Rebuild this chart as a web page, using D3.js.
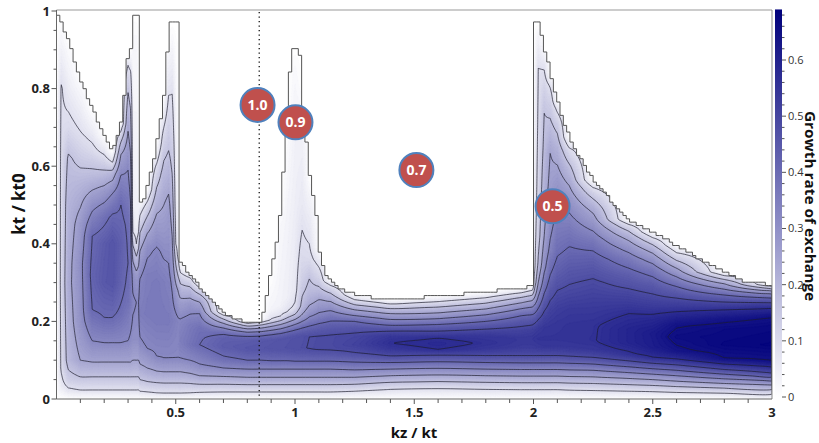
<!DOCTYPE html>
<html>
<head>
<meta charset="utf-8">
<script src="https://cdn.jsdelivr.net/npm/d3@7"></script>
<style>
  body { margin: 0; background: #fff; }
  svg { display: block; }
  text { font-family: "Open Sans", "Noto Sans", sans-serif; }
</style>
</head>
<body>
<svg id="chart" width="819" height="443"></svg>
<script>
// ---- data -------------------------------------------------------------
const xTickValues = [0.5, 1, 1.5, 2, 2.5, 3];
const yTickValues = [0, 0.2, 0.4, 0.6, 0.8, 1];
const barTickValues = [0, 0.1, 0.2, 0.3, 0.4, 0.5, 0.6];
const contourLevels = [0.08, 0.16, 0.24, 0.32, 0.40, 0.48, 0.56, 0.64];
const growthMax = 0.69;

// upper edge of the unstable region (kz, kt)
const edgeKz = [0, 0.008, 0.046, 0.115, 0.185, 0.235, 0.25, 0.27, 0.29, 0.30, 0.313, 0.314, 0.345, 0.346, 0.365, 0.38, 0.41, 0.436, 0.457, 0.47, 0.478, 0.512, 0.513, 0.52, 0.54, 0.562, 0.59, 0.616, 0.645, 0.68, 0.717, 0.75, 0.78, 0.86, 0.864, 0.88, 0.897, 0.91, 0.927, 0.935, 0.948, 0.952, 0.964, 0.973, 0.977, 0.99, 1.019, 1.027, 1.031, 1.036, 1.048, 1.052, 1.061, 1.073, 1.086, 1.094, 1.099, 1.115, 1.128, 1.149, 1.178, 1.22, 1.275, 1.346, 1.44, 1.54, 1.69, 1.93, 1.999, 2.0, 2.025, 2.04, 2.06, 2.08, 2.1, 2.125, 2.155, 2.197, 2.24, 2.293, 2.36, 2.4, 2.56, 2.7, 2.81, 2.9, 3.0];
const edgeKt = [0.99, 0.99, 0.93, 0.80, 0.70, 0.637, 0.66, 0.71, 0.81, 0.89, 0.90, 0.99, 0.99, 0.512, 0.502, 0.55, 0.62, 0.72, 0.81, 0.94, 0.97, 0.97, 0.366, 0.35, 0.337, 0.32, 0.30, 0.276, 0.255, 0.235, 0.216, 0.208, 0.201, 0.201, 0.208, 0.263, 0.325, 0.366, 0.41, 0.46, 0.53, 0.598, 0.667, 0.77, 0.827, 0.90, 0.90, 0.84, 0.77, 0.72, 0.667, 0.634, 0.582, 0.53, 0.495, 0.46, 0.39, 0.35, 0.325, 0.307, 0.289, 0.276, 0.268, 0.26, 0.256, 0.262, 0.27, 0.285, 0.29, 0.97, 0.97, 0.917, 0.874, 0.814, 0.77, 0.72, 0.67, 0.62, 0.575, 0.534, 0.487, 0.463, 0.41, 0.36, 0.325, 0.30, 0.295];

// growth-rate profiles: one per kz column, as [kt, growth] pairs
const kzColumns = [0, 0.02, 0.05, 0.1, 0.15, 0.2, 0.235, 0.27, 0.3, 0.31, 0.32, 0.335, 0.344, 0.35, 0.38, 0.42, 0.45, 0.47, 0.485, 0.5, 0.512, 0.52, 0.56, 0.6, 0.7, 0.8, 0.86, 0.9, 0.94, 0.97, 1.0, 1.03, 1.06, 1.1, 1.15, 1.25, 1.4, 1.6, 1.8, 1.95, 1.995, 2.005, 2.02, 2.045, 2.07, 2.1, 2.15, 2.25, 2.4, 2.5, 2.6, 2.8, 3.0];
const growthProfiles = [
  [[0, 0], [1, 0]],
  [[0, 0], [0.03, 0.05], [0.08, 0.09], [0.3, 0.1], [0.6, 0.095], [0.8, 0.085], [0.87, 0.05], [0.985, 0]],
  [[0, 0], [0.02, 0.06], [0.05, 0.13], [0.1, 0.19], [0.3, 0.22], [0.5, 0.2], [0.62, 0.17], [0.7, 0.1], [0.8, 0.05], [0.935, 0]],
  [[0, 0], [0.023, 0.08], [0.057, 0.16], [0.1, 0.24], [0.2, 0.29], [0.35, 0.3], [0.45, 0.27], [0.55, 0.2], [0.63, 0.13], [0.69, 0.08], [0.76, 0.04], [0.835, 0]],
  [[0, 0], [0.023, 0.08], [0.057, 0.16], [0.1, 0.25], [0.15, 0.32], [0.23, 0.4], [0.32, 0.42], [0.42, 0.4], [0.5, 0.3], [0.57, 0.19], [0.64, 0.1], [0.7, 0.04], [0.75, 0]],
  [[0, 0], [0.023, 0.08], [0.057, 0.16], [0.1, 0.25], [0.145, 0.32], [0.21, 0.4], [0.3, 0.45], [0.4, 0.44], [0.47, 0.38], [0.53, 0.28], [0.59, 0.16], [0.64, 0.06], [0.68, 0]],
  [[0, 0], [0.023, 0.08], [0.057, 0.16], [0.1, 0.25], [0.145, 0.32], [0.21, 0.4], [0.3, 0.46], [0.4, 0.46], [0.47, 0.41], [0.53, 0.32], [0.58, 0.2], [0.61, 0.08], [0.637, 0]],
  [[0, 0], [0.023, 0.08], [0.057, 0.16], [0.1, 0.25], [0.145, 0.32], [0.22, 0.39], [0.3, 0.42], [0.4, 0.43], [0.5, 0.4], [0.57, 0.33], [0.63, 0.24], [0.67, 0.14], [0.7, 0.05], [0.71, 0]],
  [[0, 0], [0.023, 0.08], [0.057, 0.16], [0.1, 0.25], [0.15, 0.32], [0.25, 0.38], [0.35, 0.4], [0.45, 0.39], [0.52, 0.36], [0.59, 0.32], [0.69, 0.24], [0.79, 0.16], [0.86, 0.08], [0.89, 0]],
  [[0, 0], [0.023, 0.08], [0.057, 0.16], [0.1, 0.25], [0.15, 0.31], [0.25, 0.36], [0.35, 0.37], [0.45, 0.35], [0.55, 0.3], [0.65, 0.23], [0.75, 0.16], [0.84, 0.09], [0.9, 0]],
  [[0, 0], [0.023, 0.08], [0.057, 0.16], [0.1, 0.24], [0.15, 0.3], [0.25, 0.33], [0.32, 0.3], [0.38, 0.2], [0.43, 0.08], [0.5, 0.04], [0.7, 0.03], [0.9, 0.02], [0.99, 0]],
  [[0, 0], [0.023, 0.08], [0.057, 0.16], [0.1, 0.24], [0.15, 0.3], [0.25, 0.32], [0.31, 0.28], [0.36, 0.18], [0.4, 0.08], [0.45, 0.04], [0.7, 0.03], [0.9, 0.02], [0.99, 0]],
  [[0, 0], [0.023, 0.08], [0.057, 0.16], [0.1, 0.24], [0.15, 0.3], [0.25, 0.32], [0.31, 0.29], [0.37, 0.2], [0.42, 0.09], [0.47, 0.04], [0.7, 0.02], [0.99, 0]],
  [[0, 0], [0.02, 0.08], [0.05, 0.16], [0.09, 0.24], [0.14, 0.31], [0.22, 0.35], [0.3, 0.33], [0.37, 0.26], [0.44, 0.14], [0.49, 0.05], [0.51, 0]],
  [[0, 0], [0.018, 0.08], [0.045, 0.16], [0.08, 0.24], [0.13, 0.32], [0.22, 0.36], [0.32, 0.35], [0.39, 0.3], [0.45, 0.2], [0.5, 0.1], [0.54, 0]],
  [[0, 0], [0.016, 0.08], [0.042, 0.16], [0.072, 0.24], [0.11, 0.32], [0.2, 0.36], [0.3, 0.36], [0.38, 0.33], [0.46, 0.26], [0.53, 0.18], [0.6, 0.09], [0.66, 0]],
  [[0, 0], [0.015, 0.08], [0.041, 0.16], [0.07, 0.24], [0.105, 0.32], [0.2, 0.36], [0.3, 0.35], [0.4, 0.3], [0.5, 0.24], [0.58, 0.19], [0.66, 0.12], [0.73, 0.05], [0.78, 0]],
  [[0, 0], [0.015, 0.08], [0.041, 0.16], [0.07, 0.24], [0.105, 0.32], [0.2, 0.36], [0.3, 0.34], [0.4, 0.3], [0.5, 0.26], [0.64, 0.16], [0.73, 0.11], [0.8, 0.07], [0.88, 0.03], [0.92, 0]],
  [[0, 0], [0.015, 0.08], [0.041, 0.16], [0.07, 0.24], [0.105, 0.32], [0.2, 0.35], [0.3, 0.31], [0.4, 0.25], [0.5, 0.2], [0.6, 0.15], [0.7, 0.11], [0.8, 0.075], [0.9, 0.03], [0.97, 0]],
  [[0, 0], [0.015, 0.08], [0.041, 0.16], [0.07, 0.24], [0.105, 0.32], [0.2, 0.34], [0.28, 0.27], [0.34, 0.17], [0.4, 0.08], [0.5, 0.05], [0.7, 0.03], [0.97, 0]],
  [[0, 0], [0.015, 0.08], [0.041, 0.16], [0.07, 0.24], [0.105, 0.32], [0.2, 0.33], [0.28, 0.23], [0.33, 0.12], [0.37, 0.05], [0.5, 0.03], [0.97, 0]],
  [[0, 0], [0.015, 0.08], [0.041, 0.16], [0.07, 0.24], [0.105, 0.32], [0.15, 0.35], [0.2, 0.33], [0.26, 0.24], [0.31, 0.13], [0.35, 0]],
  [[0, 0], [0.016, 0.08], [0.04, 0.16], [0.066, 0.24], [0.1, 0.32], [0.14, 0.375], [0.19, 0.36], [0.24, 0.29], [0.28, 0.19], [0.31, 0.09], [0.33, 0]],
  [[0, 0], [0.017, 0.08], [0.038, 0.16], [0.06, 0.24], [0.09, 0.32], [0.14, 0.4], [0.18, 0.385], [0.22, 0.32], [0.25, 0.24], [0.27, 0.16], [0.287, 0.08], [0.303, 0]],
  [[0, 0], [0.018, 0.08], [0.038, 0.16], [0.058, 0.24], [0.08, 0.32], [0.105, 0.39], [0.135, 0.44], [0.155, 0.43], [0.17, 0.39], [0.183, 0.32], [0.195, 0.24], [0.206, 0.16], [0.216, 0.08], [0.225, 0]],
  [[0, 0], [0.018, 0.08], [0.037, 0.16], [0.056, 0.24], [0.077, 0.32], [0.1, 0.4], [0.13, 0.455], [0.15, 0.44], [0.162, 0.4], [0.172, 0.32], [0.181, 0.24], [0.188, 0.16], [0.195, 0.08], [0.201, 0]],
  [[0, 0], [0.018, 0.08], [0.037, 0.16], [0.056, 0.24], [0.077, 0.32], [0.1, 0.4], [0.13, 0.46], [0.15, 0.45], [0.163, 0.4], [0.174, 0.32], [0.183, 0.24], [0.191, 0.16], [0.198, 0.08], [0.205, 0]],
  [[0, 0], [0.018, 0.08], [0.037, 0.16], [0.056, 0.24], [0.077, 0.32], [0.1, 0.405], [0.13, 0.463], [0.15, 0.458], [0.165, 0.405], [0.177, 0.32], [0.187, 0.24], [0.196, 0.16], [0.205, 0.08], [0.23, 0.03], [0.33, 0]],
  [[0, 0], [0.018, 0.08], [0.037, 0.16], [0.056, 0.24], [0.077, 0.32], [0.1, 0.405], [0.13, 0.466], [0.152, 0.462], [0.168, 0.405], [0.181, 0.32], [0.192, 0.24], [0.202, 0.16], [0.213, 0.08], [0.24, 0.035], [0.45, 0.02], [0.5, 0]],
  [[0, 0], [0.018, 0.08], [0.037, 0.16], [0.056, 0.24], [0.077, 0.32], [0.1, 0.405], [0.13, 0.47], [0.155, 0.466], [0.172, 0.405], [0.186, 0.32], [0.198, 0.24], [0.21, 0.16], [0.225, 0.08], [0.26, 0.045], [0.5, 0.03], [0.76, 0]],
  [[0, 0], [0.018, 0.08], [0.037, 0.16], [0.056, 0.24], [0.077, 0.32], [0.1, 0.41], [0.13, 0.473], [0.158, 0.47], [0.177, 0.405], [0.192, 0.32], [0.205, 0.24], [0.218, 0.16], [0.235, 0.09], [0.28, 0.06], [0.5, 0.045], [0.7, 0.035], [0.85, 0.015], [0.9, 0]],
  [[0, 0], [0.018, 0.08], [0.037, 0.16], [0.056, 0.24], [0.077, 0.32], [0.1, 0.41], [0.13, 0.477], [0.16, 0.474], [0.182, 0.405], [0.2, 0.32], [0.218, 0.24], [0.24, 0.18], [0.3, 0.13], [0.37, 0.1], [0.435, 0.08], [0.5, 0.06], [0.65, 0.04], [0.75, 0.02], [0.83, 0]],
  [[0, 0], [0.018, 0.08], [0.037, 0.16], [0.056, 0.24], [0.077, 0.32], [0.1, 0.41], [0.13, 0.482], [0.16, 0.48], [0.185, 0.41], [0.205, 0.34], [0.225, 0.28], [0.25, 0.22], [0.28, 0.18], [0.31, 0.16], [0.36, 0.1], [0.42, 0.07], [0.5, 0.04], [0.58, 0]],
  [[0, 0], [0.018, 0.08], [0.037, 0.16], [0.056, 0.24], [0.077, 0.32], [0.1, 0.41], [0.13, 0.487], [0.16, 0.485], [0.188, 0.42], [0.21, 0.35], [0.235, 0.29], [0.26, 0.23], [0.285, 0.17], [0.31, 0.12], [0.34, 0.08], [0.37, 0.04], [0.39, 0]],
  [[0, 0], [0.018, 0.08], [0.037, 0.16], [0.056, 0.24], [0.077, 0.32], [0.1, 0.41], [0.13, 0.49], [0.16, 0.49], [0.19, 0.43], [0.215, 0.36], [0.24, 0.28], [0.262, 0.2], [0.28, 0.13], [0.295, 0.07], [0.305, 0]],
  [[0, 0], [0.02, 0.08], [0.038, 0.16], [0.056, 0.24], [0.075, 0.32], [0.095, 0.4], [0.12, 0.48], [0.14, 0.51], [0.16, 0.5], [0.18, 0.46], [0.2, 0.4], [0.215, 0.32], [0.23, 0.24], [0.243, 0.16], [0.256, 0.08], [0.27, 0]],
  [[0, 0], [0.025, 0.08], [0.043, 0.16], [0.06, 0.24], [0.077, 0.32], [0.094, 0.4], [0.111, 0.48], [0.13, 0.54], [0.145, 0.56], [0.16, 0.54], [0.175, 0.48], [0.19, 0.4], [0.205, 0.32], [0.22, 0.24], [0.233, 0.16], [0.245, 0.08], [0.257, 0]],
  [[0, 0], [0.027, 0.08], [0.045, 0.16], [0.062, 0.24], [0.079, 0.32], [0.096, 0.4], [0.113, 0.48], [0.128, 0.56], [0.142, 0.578], [0.157, 0.56], [0.175, 0.48], [0.192, 0.4], [0.207, 0.32], [0.222, 0.24], [0.237, 0.16], [0.251, 0.08], [0.265, 0]],
  [[0, 0], [0.025, 0.08], [0.043, 0.16], [0.06, 0.24], [0.077, 0.32], [0.094, 0.4], [0.112, 0.48], [0.13, 0.54], [0.145, 0.555], [0.162, 0.54], [0.18, 0.48], [0.2, 0.4], [0.217, 0.32], [0.232, 0.24], [0.247, 0.16], [0.261, 0.08], [0.275, 0]],
  [[0, 0], [0.024, 0.08], [0.042, 0.16], [0.059, 0.24], [0.076, 0.32], [0.093, 0.4], [0.112, 0.48], [0.135, 0.53], [0.155, 0.54], [0.175, 0.51], [0.195, 0.46], [0.215, 0.4], [0.233, 0.32], [0.248, 0.24], [0.262, 0.16], [0.274, 0.08], [0.285, 0]],
  [[0, 0], [0.024, 0.08], [0.042, 0.16], [0.059, 0.24], [0.076, 0.32], [0.093, 0.4], [0.112, 0.48], [0.135, 0.53], [0.155, 0.54], [0.175, 0.52], [0.195, 0.47], [0.215, 0.41], [0.235, 0.33], [0.252, 0.25], [0.266, 0.17], [0.279, 0.09], [0.29, 0]],
  [[0, 0], [0.024, 0.08], [0.042, 0.16], [0.059, 0.24], [0.076, 0.32], [0.093, 0.4], [0.112, 0.48], [0.135, 0.53], [0.155, 0.545], [0.175, 0.525], [0.195, 0.48], [0.215, 0.42], [0.235, 0.35], [0.255, 0.27], [0.275, 0.19], [0.3, 0.12], [0.34, 0.07], [0.5, 0.045], [0.75, 0.03], [0.9, 0.01], [0.97, 0]],
  [[0, 0], [0.024, 0.08], [0.042, 0.16], [0.059, 0.24], [0.076, 0.32], [0.093, 0.4], [0.112, 0.48], [0.135, 0.535], [0.155, 0.55], [0.18, 0.53], [0.205, 0.48], [0.23, 0.41], [0.26, 0.33], [0.3, 0.24], [0.35, 0.17], [0.42, 0.13], [0.55, 0.105], [0.7, 0.09], [0.855, 0.08], [0.92, 0.04], [0.97, 0]],
  [[0, 0], [0.024, 0.08], [0.042, 0.16], [0.059, 0.24], [0.076, 0.32], [0.093, 0.4], [0.112, 0.48], [0.135, 0.54], [0.155, 0.55], [0.185, 0.54], [0.215, 0.5], [0.25, 0.44], [0.29, 0.37], [0.34, 0.3], [0.42, 0.24], [0.55, 0.2], [0.65, 0.175], [0.737, 0.16], [0.8, 0.12], [0.86, 0.07], [0.91, 0]],
  [[0, 0], [0.024, 0.08], [0.042, 0.16], [0.059, 0.24], [0.076, 0.32], [0.093, 0.4], [0.112, 0.48], [0.135, 0.54], [0.155, 0.55], [0.19, 0.54], [0.23, 0.51], [0.27, 0.46], [0.32, 0.4], [0.38, 0.34], [0.46, 0.29], [0.55, 0.26], [0.634, 0.24], [0.7, 0.18], [0.77, 0.12], [0.81, 0.07], [0.84, 0]],
  [[0, 0], [0.024, 0.08], [0.042, 0.16], [0.059, 0.24], [0.076, 0.32], [0.093, 0.4], [0.112, 0.48], [0.135, 0.54], [0.155, 0.55], [0.19, 0.545], [0.23, 0.525], [0.27, 0.49], [0.32, 0.44], [0.38, 0.39], [0.45, 0.35], [0.52, 0.31], [0.58, 0.26], [0.65, 0.2], [0.71, 0.13], [0.75, 0.06], [0.77, 0]],
  [[0, 0], [0.023, 0.08], [0.041, 0.16], [0.058, 0.24], [0.075, 0.32], [0.092, 0.4], [0.11, 0.48], [0.133, 0.54], [0.155, 0.552], [0.19, 0.55], [0.23, 0.535], [0.27, 0.5], [0.32, 0.46], [0.38, 0.41], [0.44, 0.36], [0.5, 0.3], [0.55, 0.24], [0.6, 0.17], [0.64, 0.1], [0.675, 0]],
  [[0, 0], [0.022, 0.08], [0.04, 0.16], [0.057, 0.24], [0.074, 0.32], [0.09, 0.4], [0.107, 0.48], [0.128, 0.54], [0.15, 0.557], [0.19, 0.555], [0.24, 0.53], [0.3, 0.49], [0.36, 0.43], [0.41, 0.36], [0.45, 0.29], [0.49, 0.22], [0.52, 0.15], [0.545, 0.08], [0.565, 0]],
  [[0, 0], [0.02, 0.08], [0.037, 0.16], [0.053, 0.24], [0.068, 0.32], [0.083, 0.4], [0.098, 0.48], [0.115, 0.55], [0.145, 0.59], [0.18, 0.59], [0.22, 0.56], [0.27, 0.5], [0.32, 0.43], [0.36, 0.36], [0.39, 0.29], [0.415, 0.22], [0.435, 0.15], [0.45, 0.08], [0.463, 0]],
  [[0, 0], [0.019, 0.08], [0.035, 0.16], [0.05, 0.24], [0.064, 0.32], [0.078, 0.4], [0.092, 0.48], [0.108, 0.56], [0.135, 0.61], [0.17, 0.615], [0.205, 0.58], [0.245, 0.52], [0.29, 0.45], [0.33, 0.37], [0.36, 0.29], [0.385, 0.21], [0.405, 0.13], [0.42, 0.06], [0.432, 0]],
  [[0, 0], [0.017, 0.08], [0.032, 0.16], [0.046, 0.24], [0.06, 0.32], [0.074, 0.4], [0.088, 0.48], [0.103, 0.56], [0.125, 0.63], [0.16, 0.655], [0.19, 0.635], [0.225, 0.56], [0.26, 0.48], [0.29, 0.4], [0.315, 0.32], [0.337, 0.24], [0.357, 0.16], [0.377, 0.08], [0.398, 0]],
  [[0, 0], [0.015, 0.08], [0.028, 0.16], [0.04, 0.24], [0.052, 0.32], [0.064, 0.4], [0.076, 0.48], [0.09, 0.56], [0.105, 0.64], [0.14, 0.67], [0.18, 0.66], [0.205, 0.63], [0.23, 0.56], [0.25, 0.48], [0.268, 0.4], [0.283, 0.32], [0.297, 0.24], [0.308, 0.16], [0.318, 0.08], [0.328, 0]],
  [[0, 0], [0.013, 0.08], [0.025, 0.16], [0.036, 0.24], [0.047, 0.32], [0.057, 0.4], [0.067, 0.48], [0.083, 0.56], [0.1, 0.64], [0.14, 0.678], [0.185, 0.665], [0.21, 0.64], [0.233, 0.56], [0.248, 0.48], [0.26, 0.4], [0.27, 0.32], [0.278, 0.24], [0.284, 0.16], [0.29, 0.08], [0.295, 0]]
];

// annotated operating points
const markerKz = [0.843, 1.002, 1.509, 2.08];
const markerKt = [0.758, 0.713, 0.59, 0.497];
const markerLabels = ["1.0", "0.9", "0.7", "0.5"];
const cutoffKz = 0.85;

// ---- layout -----------------------------------------------------------
const svg = d3.select("#chart");
const x = d3.scaleLinear().domain([0, 3]).range([56.5, 772]);
const y = d3.scaleLinear().domain([0, 1]).range([399, 11]);
const color = d3.scaleLinear().domain([0, growthMax])
  .range(["#ffffff", "#00007c"]).interpolate(d3.interpolateRgb).clamp(true);

// ---- gridded field ----------------------------------------------------
const nx = kzColumns.length;
const dKt = 0.004;
const ny = Math.round(1 / dKt) + 1;
const columnFns = growthProfiles.map(p =>
  d3.scaleLinear().domain(p.map(d => d[0])).range(p.map(d => d[1])).clamp(true));
const grid = new Float64Array(nx * ny);
for (let j = 0; j < ny; j++) {
  for (let i = 0; i < nx; i++) grid[j * nx + i] = columnFns[i](j * dKt);
}
const colToKz = d3.scaleLinear().domain(d3.range(nx)).range(kzColumns);
const rowToKt = d3.scaleLinear().domain([0, ny - 1]).range([0, (ny - 1) * dKt]);

function toPx(pt) {
  const i = Math.max(0, Math.min(nx - 1, pt[0] - 0.5));
  const j = Math.max(0, Math.min(ny - 1, pt[1] - 0.5));
  return [x(colToKz(i)), y(rowToKt(j))];
}
const ringLine = d3.line().curve(d3.curveCatmullRomClosed.alpha(0.5));
function geoPath(mp) {
  return mp.coordinates.map(poly => poly.map(ring =>
    ringLine(ring.slice(0, -1).map(toPx))).join("")).join("");
}

// ---- stepped edge of the unstable region ------------------------------
const edgeAt = d3.scaleLinear().domain(edgeKz).range(edgeKt).clamp(true);
const stepKz = 3 / 216, stepKt = 0.0086;
const steps = d3.range(216).map(k => {
  const kz = k * stepKz;
  return [kz, Math.round(edgeAt(kz + stepKz / 2) / stepKt) * stepKt];
});
steps.push([3, steps[steps.length - 1][1]]);

const defs = svg.append("defs");
defs.append("clipPath").attr("id", "unstable")
  .append("path")
  .attr("d", d3.area().curve(d3.curveStepAfter)
    .x(d => x(d[0])).y0(y(0)).y1(d => y(d[1]))(steps));

// ---- filled field ------------------------------------------------------
const field = svg.append("g").attr("clip-path", "url(#unstable)");
const fillLevels = d3.range(0.004, growthMax, 0.008);
const bands = d3.contours().size([nx, ny]).thresholds(fillLevels)(grid);
field.selectAll("path.band").data(bands).join("path")
  .attr("class", "band")
  .attr("d", geoPath)
  .attr("fill", d => color(d.value + 0.004))
  .attr("stroke", d => color(d.value + 0.004))
  .attr("stroke-width", 0.3);

const lines = d3.contours().size([nx, ny]).thresholds(contourLevels)(grid);
field.selectAll("path.iso").data(lines).join("path")
  .attr("class", "iso")
  .attr("d", geoPath)
  .attr("fill", "none")
  .attr("stroke", "#1a1a2a")
  .attr("stroke-width", 0.8)
  .attr("stroke-opacity", 0.85);

// edge line
svg.append("path")
  .attr("d", d3.line().curve(d3.curveStepAfter).x(d => x(d[0])).y(d => y(d[1]))(steps))
  .attr("fill", "none").attr("stroke", "#555").attr("stroke-width", 1);

// ---- frame and axes ---------------------------------------------------
svg.append("line").attr("x1", x(0)).attr("x2", x(3)).attr("y1", 10).attr("y2", 10)
  .attr("stroke", "#9a9a9a").attr("stroke-width", 1.2);
svg.append("line").attr("x1", x(3)).attr("x2", x(3)).attr("y1", 10).attr("y2", y(0))
  .attr("stroke", "#8a8a8a").attr("stroke-width", 1);
svg.append("line").attr("x1", x(0)).attr("x2", x(0)).attr("y1", 10).attr("y2", y(0))
  .attr("stroke", "#666").attr("stroke-width", 1);
svg.append("line").attr("x1", x(0)).attr("x2", x(3)).attr("y1", y(0)).attr("y2", y(0))
  .attr("stroke", "#666").attr("stroke-width", 1);

const tickColor = "#555";
const xMinor = d3.range(1, 30).map(k => k / 10);
svg.append("g").selectAll("line").data(xMinor).join("line")
  .attr("x1", d => x(d)).attr("x2", d => x(d))
  .attr("y1", y(0)).attr("y2", d => y(0) + (Math.abs(d * 2 - Math.round(d * 2)) < 1e-6 ? 5 : 4))
  .attr("stroke", tickColor).attr("stroke-width", 1);
const yMinor = d3.range(0, 21).map(k => k / 20);
svg.append("g").selectAll("line").data(yMinor).join("line")
  .attr("y1", d => y(d)).attr("y2", d => y(d))
  .attr("x1", x(0)).attr("x2", d => x(0) - (Math.abs(d * 5 - Math.round(d * 5)) < 1e-6 ? 5 : 3))
  .attr("stroke", tickColor).attr("stroke-width", 1);

svg.append("g").selectAll("text").data(xTickValues).join("text")
  .attr("x", d => x(d)).attr("y", 417)
  .attr("text-anchor", "middle")
  .attr("font-size", 13).attr("font-weight", 700).attr("fill", "#222")
  .text(d => d3.format("~g")(d));
svg.append("g").selectAll("text").data(yTickValues).join("text")
  .attr("x", 50).attr("y", d => y(d)).attr("dy", "0.36em")
  .attr("text-anchor", "end")
  .attr("font-size", 13).attr("font-weight", 700).attr("fill", "#222")
  .text(d => d3.format("~g")(d));

svg.append("text").attr("x", 414).attr("y", 438).attr("text-anchor", "middle")
  .attr("font-size", 15).attr("font-weight", 700).attr("fill", "#111")
  .text("kz / kt");
svg.append("text").attr("transform", "translate(25,204) rotate(-90)")
  .attr("text-anchor", "middle")
  .attr("font-size", 17).attr("font-weight", 700).attr("fill", "#111")
  .text("kt / kt0");

// ---- cutoff marker and operating points -------------------------------
svg.append("line").attr("x1", x(cutoffKz)).attr("x2", x(cutoffKz))
  .attr("y1", 12).attr("y2", y(0))
  .attr("stroke", "#111").attr("stroke-width", 1.3).attr("stroke-dasharray", "1.2,3.3");

const markers = svg.append("g").selectAll("g").data(markerLabels).join("g")
  .attr("transform", (d, i) => `translate(${x(markerKz[i])},${y(markerKt[i])})`);
markers.append("circle").attr("r", 17)
  .attr("fill", "#c0504d").attr("stroke", "#4f81bd").attr("stroke-width", 2);
markers.append("text").attr("text-anchor", "middle").attr("dy", "0.36em")
  .attr("font-size", 14).attr("font-weight", 700).attr("fill", "#fff")
  .text(d => d);

// ---- colour bar -------------------------------------------------------
const cb = d3.scaleLinear().domain([0, 0.6]).range([397, 60]);
const grad = defs.append("linearGradient").attr("id", "barGrad")
  .attr("x1", 0).attr("x2", 0).attr("y1", 1).attr("y2", 0);
grad.selectAll("stop").data(d3.range(0, 1.0001, 0.1)).join("stop")
  .attr("offset", d => d).attr("stop-color", d => color(d * growthMax));
svg.append("rect").attr("x", 775).attr("width", 7)
  .attr("y", cb(growthMax)).attr("height", cb(0) - cb(growthMax))
  .attr("fill", "url(#barGrad)");
const barMinor = d3.range(0, 35).map(k => k / 50);
svg.append("g").selectAll("line").data(barMinor).join("line")
  .attr("x1", 782).attr("x2", d => (Math.abs(d * 10 - Math.round(d * 10)) < 1e-6 ? 786 : 784.5))
  .attr("y1", d => cb(d)).attr("y2", d => cb(d))
  .attr("stroke", "#555").attr("stroke-width", 1);
svg.append("g").selectAll("text").data(barTickValues).join("text")
  .attr("x", 788).attr("y", d => cb(d)).attr("dy", "0.36em")
  .attr("font-size", 11).attr("fill", "#333")
  .text(d => d3.format("~g")(d));
svg.append("text").attr("transform", "translate(804.5,206) rotate(90)")
  .attr("text-anchor", "middle")
  .attr("font-size", 14).attr("font-weight", 700).attr("fill", "#111")
  .attr("textLength", 190).attr("lengthAdjust", "spacingAndGlyphs")
  .text("Growth rate of exchange");
</script>
</body>
</html>
